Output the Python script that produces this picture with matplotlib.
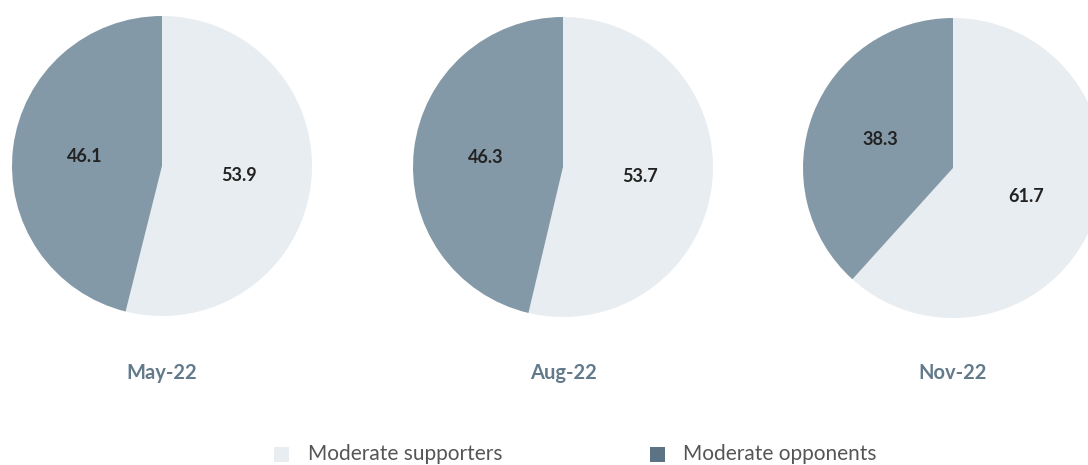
import matplotlib
matplotlib.use("Agg")
import matplotlib.pyplot as plt
from matplotlib.patches import Rectangle
import numpy as np

periods = ["May-22", "Aug-22", "Nov-22"]
supporters = [53.9, 53.7, 61.7]
opponents = [46.1, 46.3, 38.3]
series_names = ["Moderate supporters", "Moderate opponents"]

pie_colors = ["#E8EDF1", "#8499A7"]
legend_colors = ["#E8EDF1", "#5B7385"]

W, H = 1088, 465
fig = plt.figure(figsize=(W / 100, H / 100), dpi=100)
fig.patch.set_facecolor("white")


def fx(px):
    return px / W


def fy(py):
    return 1 - py / H


centers = [(162, 166), (563, 167), (953, 168)]
R = 150

for (cx, cy), name, s, o in zip(centers, periods, supporters, opponents):
    ax = fig.add_axes([fx(cx - R), fy(cy + R), 2 * R / W, 2 * R / H])
    wedges, texts = ax.pie(
        [s, o], colors=pie_colors, startangle=90, counterclock=False,
        labels=[f"{s:.1f}", f"{o:.1f}"], labeldistance=0.52,
        wedgeprops=dict(linewidth=0),
        textprops=dict(fontsize=13, fontweight="bold", color="#222222",
                       family="Lato", ha="center", va="center"),
    )
    ax.set_xlim(-1, 1)
    ax.set_ylim(-1, 1)
    ax.set_aspect("equal")
    ax.axis("off")
    fig.text(fx(cx), fy(373), name, ha="center", va="center",
             fontsize=14.5, fontweight="bold", color="#637A8B", family="Lato")

# legend: swatch + label pairs along the bottom
legend_x = [(274, 308), (650, 683)]
for (sx, tx), label, color in zip(legend_x, series_names, legend_colors):
    fig.patches.append(Rectangle((fx(sx), fy(462)), 15 / W, 15 / H,
                                 transform=fig.transFigure, facecolor=color,
                                 edgecolor="none"))
    fig.text(fx(tx), fy(454), label, ha="left", va="center",
             fontsize=15, color="#555555", family="Lato")

fig.savefig("out.png", dpi=100)
